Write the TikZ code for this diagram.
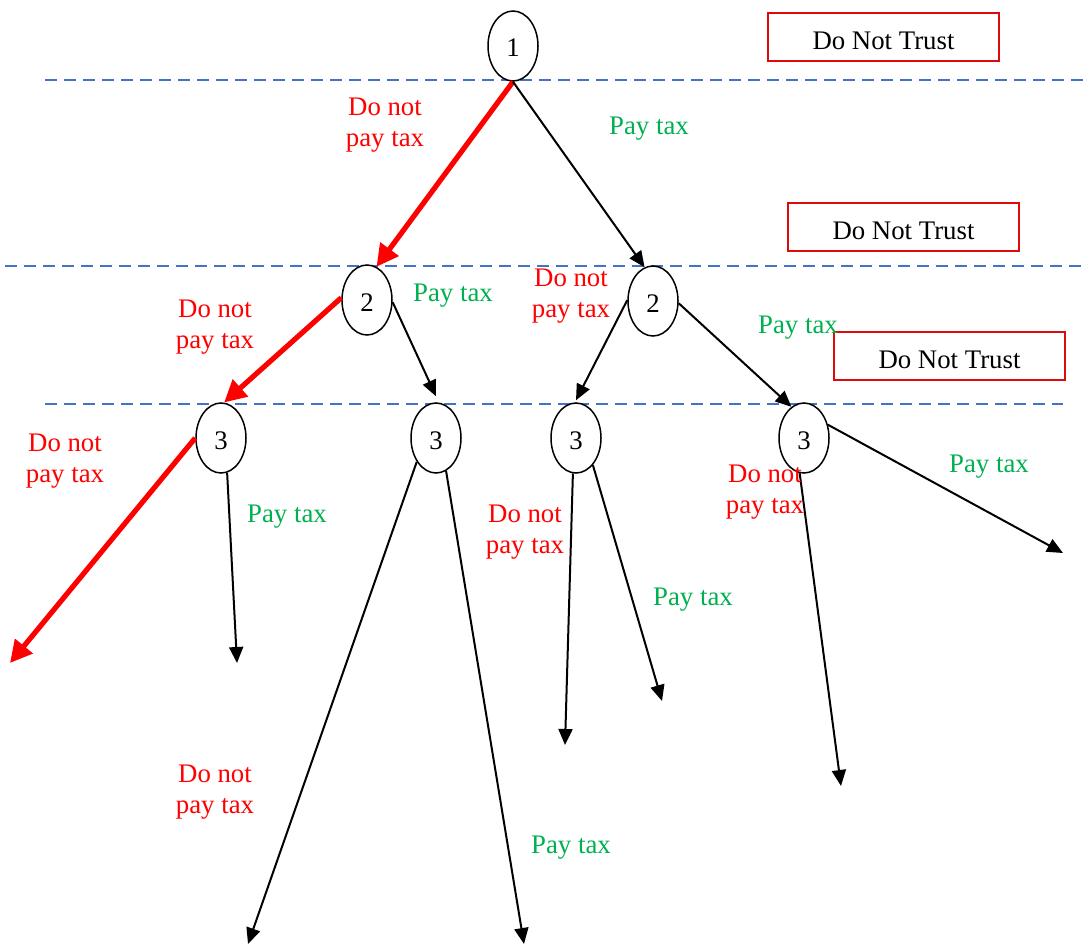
\documentclass[tikz,border=0pt]{standalone}
\usepackage{fontspec}
\setmainfont{Liberation Serif}
\usetikzlibrary{shapes.geometric,arrows.meta,calc}
\definecolor{tred}{RGB}{255,0,0}
\definecolor{tgreen}{RGB}{0,176,80}
\definecolor{tblue}{RGB}{68,114,196}
\definecolor{boxred}{RGB}{220,10,10}
\begin{document}
\begin{tikzpicture}[x=0.5pt,y=-0.5pt,
  every node/.style={font=\fontsize{13.4}{15.5}\selectfont},
  state/.style={ellipse,draw,line width=0.75pt,minimum width=25pt,minimum height=35pt,inner sep=0pt,text height=11pt,text depth=0pt},
  trust/.style={draw=boxred,line width=1pt,minimum width=115.5pt,minimum height=24pt,inner sep=0pt,text height=12.6pt,text depth=0pt},
  sep/.style={draw=tblue,line width=1pt,dash pattern=on 6pt off 3.5pt},
  blk/.style={line width=1pt,-{Triangle[length=8pt,width=7pt]}},
  redarr/.style={draw=tred,line width=2.6pt,-{Triangle[length=11pt,width=11pt]}},
  nolab/.style={text=tred,align=center,yshift=-1.5pt},
  yeslab/.style={text=tgreen,align=center,yshift=-1.5pt}]
\useasboundingbox (0,0) rectangle (1091,947);
% separators
\draw[sep] (45,80) -- (1085,80);
\draw[sep] (5,266) -- (1085,266);
\draw[sep] (45,404) -- (1063,404);
% boxes
\node[trust] (t1) at (883.5,37) {Do Not Trust};
\node[trust] (t2) at (903.5,226.5) {Do Not Trust};
\node[trust] (t3) at (949.5,356) {Do Not Trust};
% nodes
\node[state,fill=white] (n1) at (513,46) {1};
\node[state,fill=white] (n2a) at (367,300) {2};
\node[state,fill=white] (n2b) at (653,301) {2};
\node[state,fill=white] (n3a) at (221,438) {3};
\node[state,fill=white] (n3b) at (436,438) {3};
\node[state,fill=white] (n3c) at (576,438) {3};
\node[state,fill=white] (n3d) at (804,438) {3};
% free ends
\coordinate (e1) at (10,663);
\coordinate (e2) at (237,663);
\coordinate (e3) at (248,944);
\coordinate (e4) at (524,944);
\coordinate (e5) at (565,745);
\coordinate (e6) at (662,701);
\coordinate (e7) at (841,786);
\coordinate (e8) at (1063,553);
% edges
\draw[redarr] (n1.south) -- (n2a.74);
\draw[blk] (n1.south) -- (n2b.104);
\draw[redarr] (n2a.175) -- (n3a.85);
\draw[blk] (n2a.-5) -- ($(n3b.north)+(0,-6)$);
\draw[blk] (n2b.178) -- ($(n3c.north)+(0,-2)$);
\draw[blk] (n2b.-5) -- (n3d.112);
\draw[redarr] (n3a.180) -- (e1);
\draw[blk] (n3a.-80) -- (e2);
\draw[blk] (n3b.-129) -- (e3);
\draw[blk] (n3b.-73) -- (e4);
\draw[blk] (n3c.-95) -- (e5);
\draw[blk] (n3c.-58) -- (e6);
\draw[blk] (n3d.-97) -- (e7);
\draw[blk] (n3d.29) -- (e8);
% labels
\node[nolab] (l1) at (385,122) {Do not\\pay tax};
\node[yeslab] (l2) at (649,126) {Pay tax};
\node[nolab] (l3) at (215,324) {Do not\\pay tax};
\node[yeslab] (l4) at (453,293) {Pay tax};
\node[nolab] (l5) at (571,293) {Do not\\pay tax};
\node[yeslab] (l6) at (798,325) {Pay tax};
\node[nolab] (l7) at (65,458) {Do not\\pay tax};
\node[yeslab] (l8) at (287,514) {Pay tax};
\node[nolab] (l9) at (525,529) {Do not\\pay tax};
\node[yeslab] (l10) at (693,597) {Pay tax};
\node[nolab] (l11) at (765,489) {Do not\\pay tax};
\node[yeslab] (l12) at (989,464) {Pay tax};
\node[nolab] (l13) at (215,789) {Do not\\pay tax};
\node[yeslab] (l14) at (571,845) {Pay tax};
\end{tikzpicture}
\end{document}
